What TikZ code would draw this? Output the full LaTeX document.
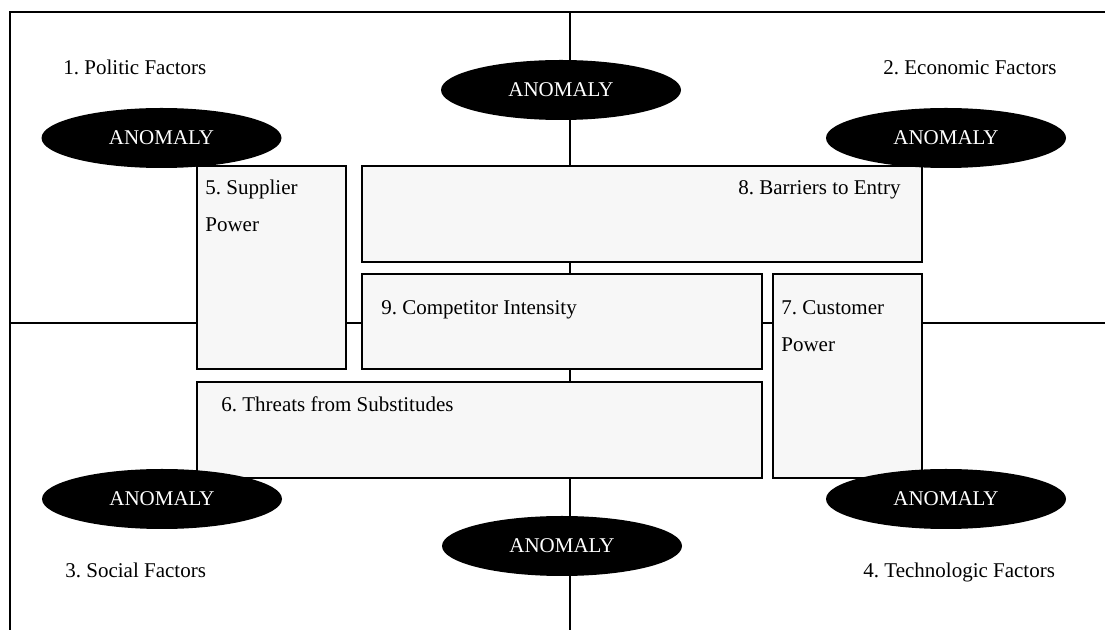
\documentclass[tikz,border=0pt]{standalone}
\usepackage{fontspec}
\setmainfont{Liberation Serif}
\usepackage{xcolor}
\usepackage{tikz}
\usetikzlibrary{shapes.geometric}

\definecolor{boxgray}{HTML}{F7F7F7}
\frenchspacing

\begin{document}
\begin{tikzpicture}[
    x=0.5pt, y=-0.5pt,
    font=\fontsize{10.5}{18.5}\selectfont,
    frame/.style={draw=black, line width=1pt},
    force/.style={rectangle, draw=black, fill=boxgray, line width=1pt, anchor=north west, outer sep=0pt, inner sep=0pt},
    forcelabel/.style={anchor=base west, inner sep=0pt, align=left},
    factor/.style={anchor=base west, inner sep=0pt},
    anomaly/.style={ellipse, fill=black, text=white, minimum width=120pt, minimum height=30pt, inner sep=0pt}
]
    \useasboundingbox (0,0) rectangle (1105,630);

    % Frame and cross lines
    \coordinate (topL) at (10,12);
    \coordinate (topR) at (1105,12);
    \coordinate (botL) at (10,630);
    \coordinate (midT) at (569.5,12);
    \coordinate (midB) at (569.5,630);
    \coordinate (midL) at (10,323.5);
    \coordinate (midR) at (1105,323.5);
    \draw[frame] (topR) -- (topL) -- (botL);
    \draw[frame] (midT) -- (midB);
    \draw[frame] (midL) -- (midR);

    % Five forces
    \node[force, minimum width=74.5pt, minimum height=101.5pt] (supplier) at (197,166) {};
    \node[force, minimum width=280pt, minimum height=48pt] (barriers) at (362,166) {};
    \node[force, minimum width=200pt, minimum height=47.5pt] (competitor) at (362,274) {};
    \node[force, minimum width=74.5pt, minimum height=102pt] (customer) at (773,274) {};
    \node[force, minimum width=282.5pt, minimum height=48pt] (threats) at (197,382) {};

    % base of a two-line label is its last line
    \node[forcelabel] (supplierTxt) at (205,232) {5. Supplier\\Power};
    \node[forcelabel] (barriersTxt) at (738,195) {8. Barriers to Entry};
    \node[forcelabel] (competitorTxt) at (381,315) {9. Competitor Intensity};
    \node[forcelabel] (customerTxt) at (781,352) {7. Customer\\Power};
    \node[forcelabel] (threatsTxt) at (221,412) {6. Threats from Substitudes};

    % PEST factors
    \node[factor] (politic) at (63,75) {1. Politic Factors};
    \node[factor] (economic) at (883,75) {2. Economic Factors};
    \node[factor] (social) at (65,578) {3. Social Factors};
    \node[factor] (techno) at (863,578) {4. Technologic Factors};

    % Anomalies
    \node[anomaly] (anomTL) at (161.5,138) {ANOMALY};
    \node[anomaly] (anomTC) at (561,90) {ANOMALY};
    \node[anomaly] (anomTR) at (946,138) {ANOMALY};
    \node[anomaly] (anomBL) at (162,499) {ANOMALY};
    \node[anomaly] (anomBC) at (562,546) {ANOMALY};
    \node[anomaly] (anomBR) at (946,499) {ANOMALY};

\end{tikzpicture}
\end{document}
